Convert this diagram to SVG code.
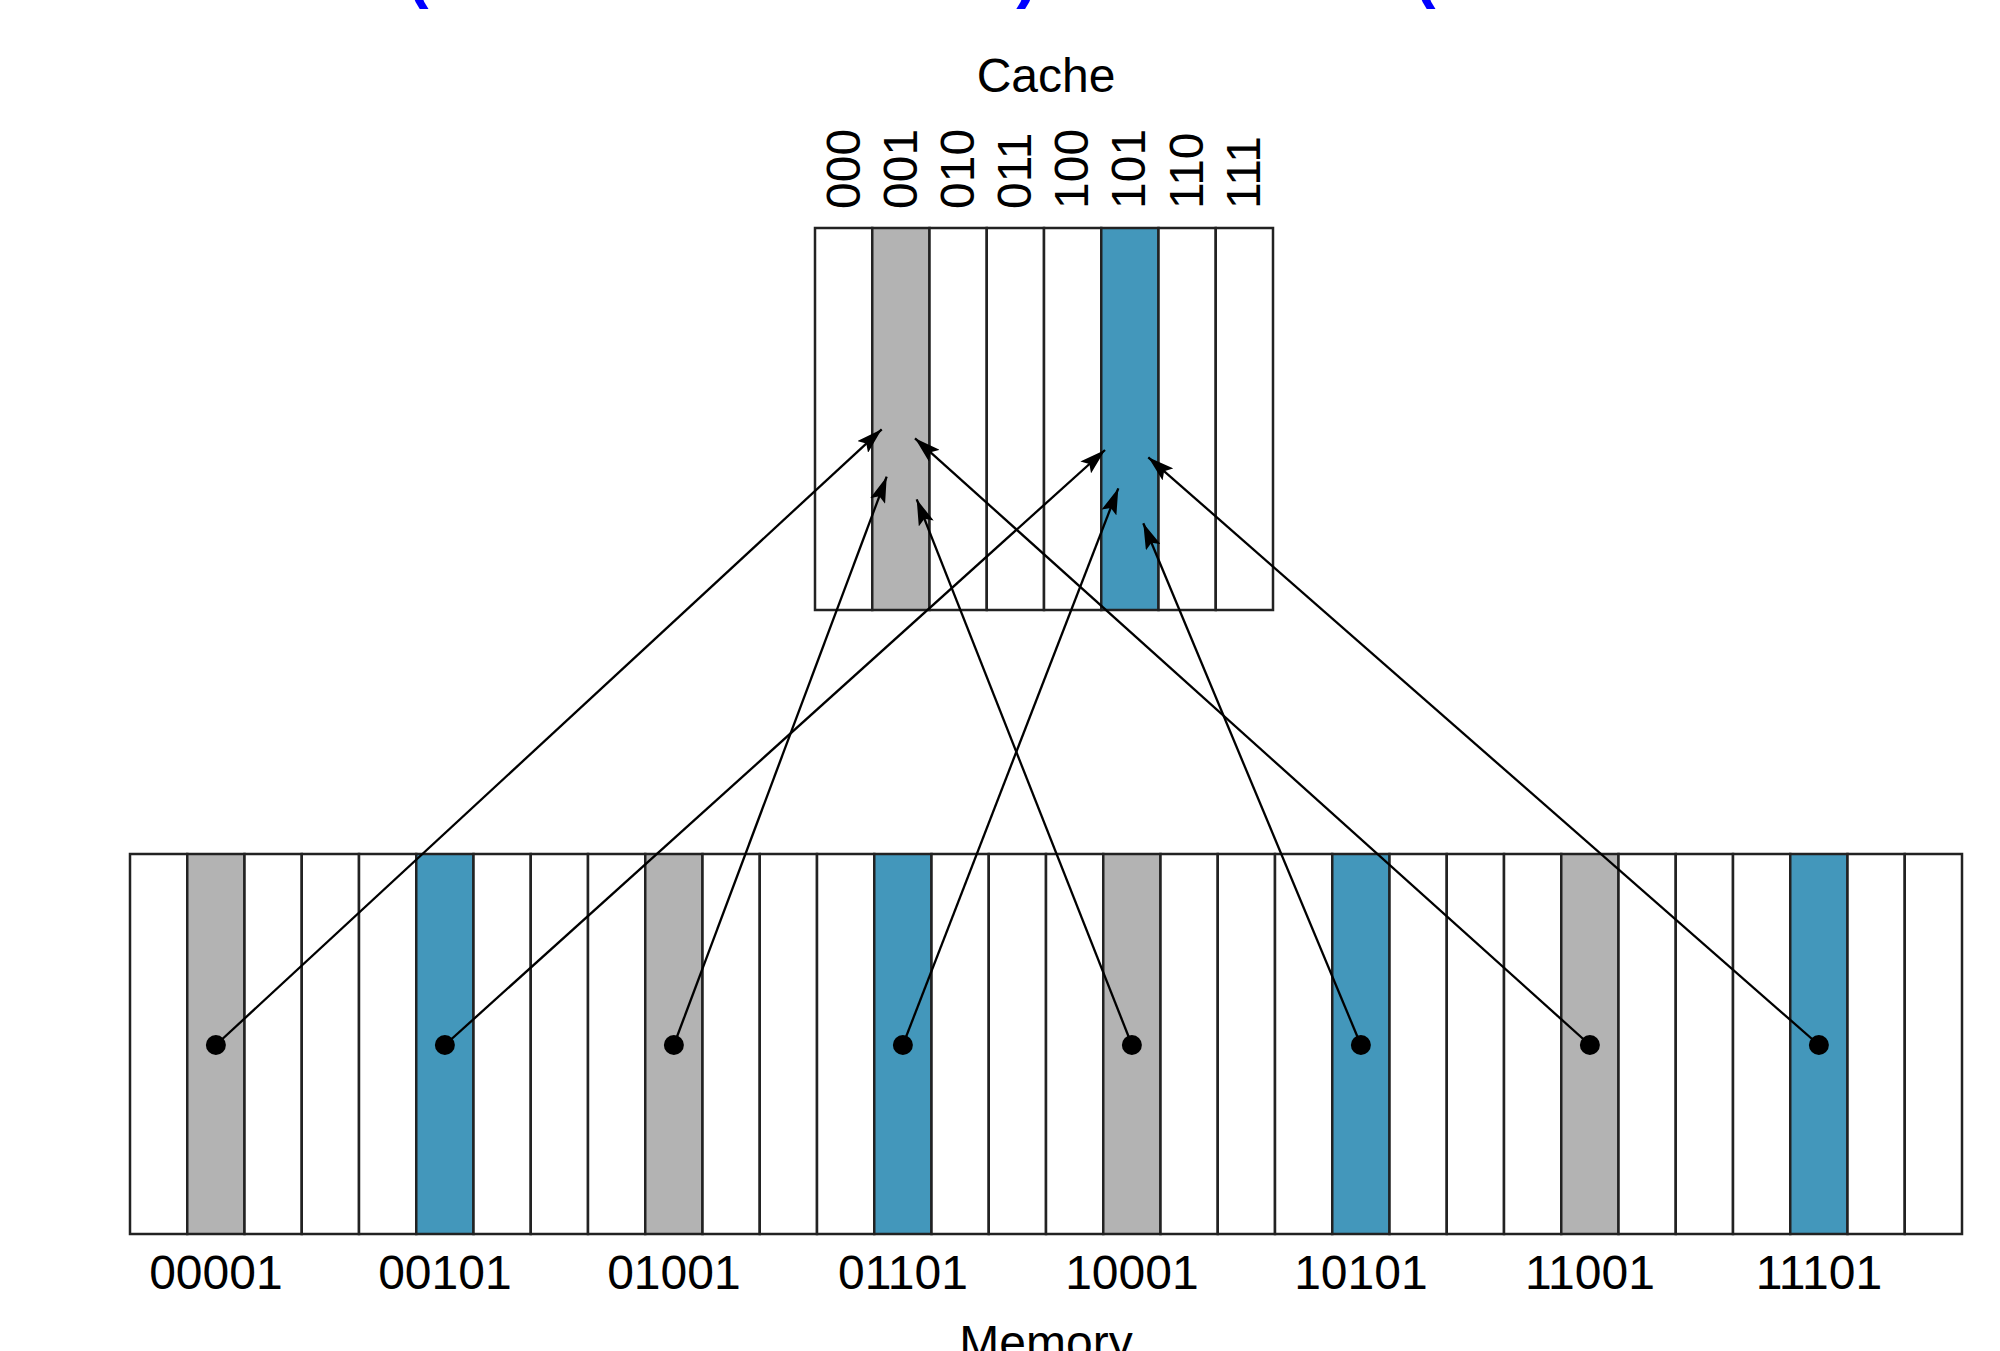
<svg xmlns="http://www.w3.org/2000/svg" width="2000" height="1351" viewBox="0 0 2000 1351">
<defs>
<style>
.cell{fill:#ffffff;stroke:#222;stroke-width:2.5}
.gray{fill:#b3b3b3;stroke:#222;stroke-width:2.5}
.blue{fill:#4397bb;stroke:#222;stroke-width:2.5}
.lbl{font-family:"Liberation Sans",Arial,sans-serif;font-size:48px;fill:#000}
.title{font-family:"Liberation Sans",Arial,sans-serif;font-size:64px;font-weight:bold;fill:#0000ff}
.conn{stroke:#000;stroke-width:2.3;fill:none;marker-end:url(#arr)}
.dot{fill:#000}
</style>
<marker id="arr" viewBox="0 0 26 16" refX="26" refY="8" markerWidth="26" markerHeight="16" markerUnits="userSpaceOnUse" orient="auto">
<path d="M0,0 L26,8 L0,16 L5,8 Z" fill="#000"/>
</marker>
</defs>
<rect width="2000" height="1351" fill="#ffffff"/>
<g id="title-fragments">
<text class="title" x="418" y="-4" text-anchor="middle">(</text>
<text class="title" x="1027" y="-4" text-anchor="middle">)</text>
<text class="title" x="1425" y="-4" text-anchor="middle">(</text>
</g>
<g id="cache">
<text class="lbl" x="1046" y="92" text-anchor="middle">Cache</text>
<rect class="cell" x="815" y="228" width="57.25" height="382"/>
<rect class="gray" x="872.25" y="228" width="57.25" height="382"/>
<rect class="cell" x="929.5" y="228" width="57.25" height="382"/>
<rect class="cell" x="986.75" y="228" width="57.25" height="382"/>
<rect class="cell" x="1044" y="228" width="57.25" height="382"/>
<rect class="blue" x="1101.25" y="228" width="57.25" height="382"/>
<rect class="cell" x="1158.5" y="228" width="57.25" height="382"/>
<rect class="cell" x="1215.75" y="228" width="57.25" height="382"/>
<text class="lbl" transform="translate(860,209) rotate(-90)">000</text>
<text class="lbl" transform="translate(917,209) rotate(-90)">001</text>
<text class="lbl" transform="translate(974,209) rotate(-90)">010</text>
<text class="lbl" transform="translate(1031,209) rotate(-90)">011</text>
<text class="lbl" transform="translate(1088,209) rotate(-90)">100</text>
<text class="lbl" transform="translate(1145,209) rotate(-90)">101</text>
<text class="lbl" transform="translate(1203,209) rotate(-90)">110</text>
<text class="lbl" transform="translate(1260,209) rotate(-90)">111</text>
</g>
<g id="memory">
<rect class="cell" x="130" y="854" width="57.25" height="380"/>
<rect class="gray" x="187.25" y="854" width="57.25" height="380"/>
<rect class="cell" x="244.5" y="854" width="57.25" height="380"/>
<rect class="cell" x="301.75" y="854" width="57.25" height="380"/>
<rect class="cell" x="359" y="854" width="57.25" height="380"/>
<rect class="blue" x="416.25" y="854" width="57.25" height="380"/>
<rect class="cell" x="473.5" y="854" width="57.25" height="380"/>
<rect class="cell" x="530.75" y="854" width="57.25" height="380"/>
<rect class="cell" x="588" y="854" width="57.25" height="380"/>
<rect class="gray" x="645.25" y="854" width="57.25" height="380"/>
<rect class="cell" x="702.5" y="854" width="57.25" height="380"/>
<rect class="cell" x="759.75" y="854" width="57.25" height="380"/>
<rect class="cell" x="817" y="854" width="57.25" height="380"/>
<rect class="blue" x="874.25" y="854" width="57.25" height="380"/>
<rect class="cell" x="931.5" y="854" width="57.25" height="380"/>
<rect class="cell" x="988.75" y="854" width="57.25" height="380"/>
<rect class="cell" x="1046" y="854" width="57.25" height="380"/>
<rect class="gray" x="1103.25" y="854" width="57.25" height="380"/>
<rect class="cell" x="1160.5" y="854" width="57.25" height="380"/>
<rect class="cell" x="1217.75" y="854" width="57.25" height="380"/>
<rect class="cell" x="1275" y="854" width="57.25" height="380"/>
<rect class="blue" x="1332.25" y="854" width="57.25" height="380"/>
<rect class="cell" x="1389.5" y="854" width="57.25" height="380"/>
<rect class="cell" x="1446.75" y="854" width="57.25" height="380"/>
<rect class="cell" x="1504" y="854" width="57.25" height="380"/>
<rect class="gray" x="1561.25" y="854" width="57.25" height="380"/>
<rect class="cell" x="1618.5" y="854" width="57.25" height="380"/>
<rect class="cell" x="1675.75" y="854" width="57.25" height="380"/>
<rect class="cell" x="1733" y="854" width="57.25" height="380"/>
<rect class="blue" x="1790.25" y="854" width="57.25" height="380"/>
<rect class="cell" x="1847.5" y="854" width="57.25" height="380"/>
<rect class="cell" x="1904.75" y="854" width="57.25" height="380"/>
<text class="lbl" x="215.9" y="1289" text-anchor="middle">00001</text>
<text class="lbl" x="444.9" y="1289" text-anchor="middle">00101</text>
<text class="lbl" x="673.9" y="1289" text-anchor="middle">01001</text>
<text class="lbl" x="902.9" y="1289" text-anchor="middle">01101</text>
<text class="lbl" x="1131.9" y="1289" text-anchor="middle">10001</text>
<text class="lbl" x="1360.9" y="1289" text-anchor="middle">10101</text>
<text class="lbl" x="1589.9" y="1289" text-anchor="middle">11001</text>
<text class="lbl" x="1818.9" y="1289" text-anchor="middle">11101</text>
<text class="lbl" x="1046" y="1359" text-anchor="middle">Memory</text>
</g>
<g id="connectors">
<line class="conn" x1="215.9" y1="1045" x2="881.7" y2="429.3"/>
<line class="conn" x1="444.9" y1="1045" x2="1105" y2="450"/>
<line class="conn" x1="673.9" y1="1045" x2="886.7" y2="476.7"/>
<line class="conn" x1="902.9" y1="1045" x2="1118.3" y2="488.3"/>
<line class="conn" x1="1131.9" y1="1045" x2="916.7" y2="499.3"/>
<line class="conn" x1="1360.9" y1="1045" x2="1143.3" y2="523.3"/>
<line class="conn" x1="1589.9" y1="1045" x2="915" y2="438.3"/>
<line class="conn" x1="1818.9" y1="1045" x2="1148.3" y2="457.3"/>
</g>
<g id="dots">
<circle class="dot" cx="215.9" cy="1045" r="10"/>
<circle class="dot" cx="444.9" cy="1045" r="10"/>
<circle class="dot" cx="673.9" cy="1045" r="10"/>
<circle class="dot" cx="902.9" cy="1045" r="10"/>
<circle class="dot" cx="1131.9" cy="1045" r="10"/>
<circle class="dot" cx="1360.9" cy="1045" r="10"/>
<circle class="dot" cx="1589.9" cy="1045" r="10"/>
<circle class="dot" cx="1818.9" cy="1045" r="10"/>
</g>
</svg>
